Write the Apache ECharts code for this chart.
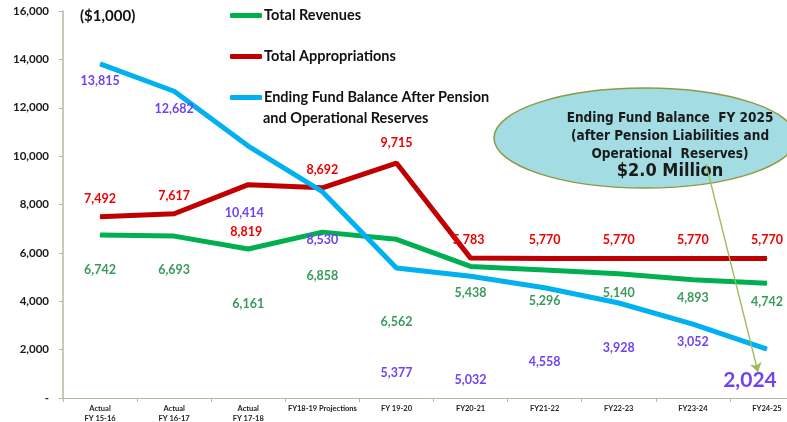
<!DOCTYPE html>
<html>
<head>
<meta charset="utf-8">
<script src="https://cdn.jsdelivr.net/npm/echarts@6/dist/echarts.min.js"></script>
<style>
  html, body { margin: 0; padding: 0; background: #fff; }
  #chart { width: 787px; height: 422px; }
</style>
</head>
<body>
<div id="chart"></div>
<script>
// categories and values ($1,000)
var years = ["Actual\nFY 15-16", "Actual\nFY 16-17", "Actual\nFY 17-18", "FY18-19 Projections", "FY 19-20",
    "FY20-21", "FY21-22", "FY22-23", "FY23-24", "FY24-25"];
var revenues = [6742, 6693, 6161, 6858, 6562, 5438, 5296, 5140, 4893, 4742];
var appropriations = [7492, 7617, 8819, 8692, 9715, 5783, 5770, 5770, 5770, 5770];
var fundBalance = [13815, 12682, 10414, 8530, 5377, 5032, 4558, 3928, 3052, 2024];
var yTicks = [0, 2000, 4000, 6000, 8000, 10000, 12000, 14000, 16000];

// label offsets (px from the point), style only
var revOffset = [[0, 35], [0, 34], [0, 55], [0, 44], [0, 83], [0, 27], [0, 31], [0, 19], [0, 18], [0, 19]];
var appOffset = [[0, -18], [0, -18], [-2, 47], [0, -18], [0, -20], [-2, -18], [0, -18], [0, -18], [0, -18], [0, -18]];
var balOffset = [[0, 17], [0, 18], [-4, 67], [0, 48], [0, 105], [0, 104], [0, 74], [0, 45], [0, 18], [-17, 31]];

var fmt = function (v) { return v.toLocaleString("en-US"); };

function withLabels(values, offsets, color) {
    return values.map(function (v, i) {
        return {
            value: v,
            label: { show: true, position: "inside", offset: offsets[i], color: color,
                fontFamily: "Lato", fontWeight: "bold", fontSize: 12.5, formatter: fmt(v) }
        };
    });
}

var balData = withLabels(fundBalance, balOffset, "#7043f2");
balData[9].label.fontSize = 21; // the highlighted final value

var chart = echarts.init(document.getElementById("chart"));

var legendText = { fontFamily: "Lato", fontWeight: "bold", fontSize: 14.5, color: "#111", padding: [0, 0, 0, -3] };
function legendAt(name, top) {
    return {
        data: [name], left: 230, top: top, icon: "roundRect", itemWidth: 32, itemHeight: 5,
        itemGap: 0, textStyle: legendText, padding: 0, selectedMode: false
    };
}

chart.setOption({
    animation: false,
    backgroundColor: "#fff",
    // plot runs past the right edge of the picture, as in the original
    grid: { left: 63, top: 11, width: 741, height: 387, containLabel: false, outerBoundsMode: "none" },
    legend: [
        legendAt("Total Revenues", 8),
        legendAt("Total Appropriations", 49),
        legendAt("Ending Fund Balance After Pension", 90)
    ],
    xAxis: {
        type: "category",
        data: years,
        boundaryGap: true,
        axisLine: { lineStyle: { color: "#b7b7a4", width: 1 } },
        axisTick: { show: true, length: 4, lineStyle: { color: "#b7b7a4" } },
        axisLabel: { fontFamily: "Lato", fontWeight: "bold", fontSize: 7.5, color: "#222", margin: 6, lineHeight: 10, interval: 0 }
    },
    yAxis: {
        type: "value",
        min: 0, max: 16000, interval: 2000,
        axisLine: { show: true, lineStyle: { color: "#b7b7a4", width: 1.5 } },
        axisTick: { show: true, length: 4, lineStyle: { color: "#b7b7a4" } },
        splitLine: { show: false },
        axisLabel: {
            fontFamily: "Lato", fontWeight: "bold", fontSize: 11.5, color: "#1a1a1a", margin: 14,
            formatter: function (v) { return v === 0 ? "-" : fmt(v); }
        }
    },
    series: [
        {
            name: "Total Revenues", type: "line", data: withLabels(revenues, revOffset, "#3a9a5c"),
            symbol: "circle", symbolSize: 1, lineStyle: { width: 5, color: "#00b050" },
            itemStyle: { color: "#00b050" }, z: 2
        },
        {
            name: "Total Appropriations", type: "line", data: withLabels(appropriations, appOffset, "#ee0000"),
            symbol: "circle", symbolSize: 1, lineStyle: { width: 5, color: "#c00000" },
            itemStyle: { color: "#c00000" }, z: 3
        },
        {
            name: "Ending Fund Balance After Pension", type: "line", data: balData,
            symbol: "circle", symbolSize: 1, lineStyle: { width: 5, color: "#00b0f0" },
            itemStyle: { color: "#00b0f0" }, z: 4,
            markLine: {
                silent: true, symbol: ["none", "arrow"], symbolSize: 9, label: { show: false },
                lineStyle: { color: "#9bbb59", width: 1.3, type: "solid" },
                data: [[{ x: 706, y: 164 }, { x: 758, y: 372 }]]
            }
        }
    ],
    graphic: {
        z: 1,
        elements: [
            { type: "text", left: 80, top: 9, style: { text: "($1,000)", fontFamily: "Lato", fontWeight: "bold", fontSize: 15, fill: "#111" } },
            { type: "text", left: 263, top: 111, style: { text: "and Operational Reserves", fontFamily: "Lato", fontWeight: "bold", fontSize: 14.5, fill: "#111" } },
            {
                type: "ellipse", shape: { cx: 645, cy: 138, rx: 151, ry: 50 },
                style: { fill: "#a3dde3", stroke: "#8c9a45", lineWidth: 1.5 }
            },
            {
                type: "text", x: 670, y: 109, z: 2,
                style: {
                    text: "Ending Fund Balance  FY 2025\n(after Pension Liabilities and\nOperational  Reserves)",
                    align: "center", fontFamily: "DejaVu Sans Condensed", fontWeight: "bold", fontSize: 13.5,
                    lineHeight: 18, fill: "#1a1a1a"
                }
            },
            {
                type: "text", x: 670, y: 162, z: 2,
                style: { text: "$2.0 Million", align: "center", fontFamily: "DejaVu Sans Condensed", fontWeight: "bold", fontSize: 18, fill: "#1a1a1a" }
            }
        ]
    }
});
</script>
</body>
</html>
